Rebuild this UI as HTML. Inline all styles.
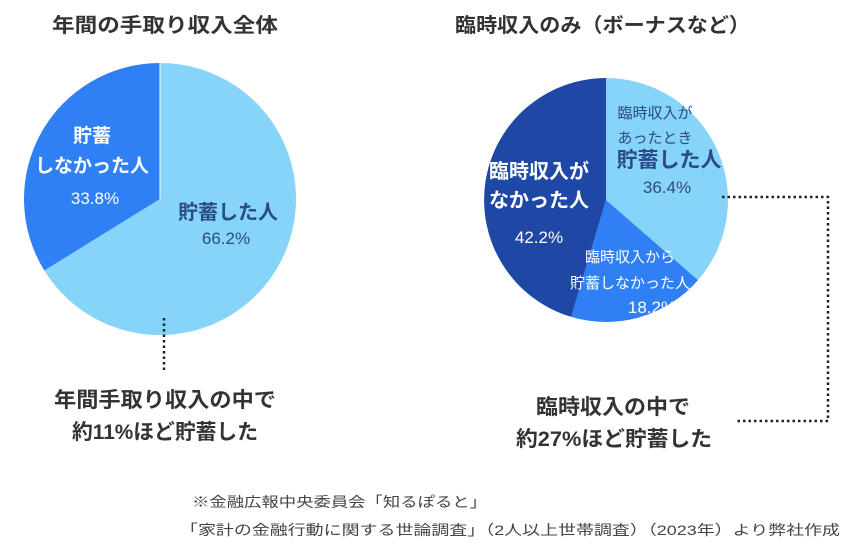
<!DOCTYPE html>
<html><head><meta charset="utf-8"><style>
html,body{margin:0;padding:0;background:#fff;}
svg{display:block;font-family:"Liberation Sans","Noto Sans CJK JP",sans-serif;}
</style></head><body>
<svg width="850" height="547" viewBox="0 0 850 547">
<text x="52" y="32" font-size="20" font-weight="bold" fill="#333" textLength="226" lengthAdjust="spacingAndGlyphs">年間の手取り収入全体</text>
<text x="455" y="32" font-size="20" font-weight="bold" fill="#333" textLength="295" lengthAdjust="spacingAndGlyphs">臨時収入のみ（ボーナスなど）</text>

<path d="M160,199 L160,63 A136,136 0 1 1 44.3,270.5 Z" fill="#86d4f7"/>
<path d="M160,199 L44.3,270.5 A136,136 0 0 1 160,63 Z" fill="#2f80f4"/>
<path d="M160,199 L160,63" stroke="#fff" stroke-width="1"/>

<path d="M606,200 L606,78 A122,122 0 0 1 698,280.1 Z" fill="#86d4f7"/>
<path d="M606,200 L698,280.1 A122,122 0 0 1 571.2,316.9 Z" fill="#2f80f4"/>
<path d="M606,200 L571.2,316.9 A122,122 0 0 1 606,78 Z" fill="#1f48a6"/>

<g fill="#fff" text-anchor="middle">
<text x="92" y="142" font-size="19" font-weight="bold">貯蓄</text>
<text x="92" y="172" font-size="19" font-weight="bold">しなかった人</text>
<text x="95" y="204" font-size="17">33.8%</text>
<text x="539" y="178" font-size="20" font-weight="bold">臨時収入が</text>
<text x="539" y="207" font-size="20" font-weight="bold">なかった人</text>
<text x="539" y="243" font-size="17">42.2%</text>
<text x="630" y="262" font-size="15">臨時収入から</text>
<text x="630" y="288" font-size="15">貯蓄しなかった人</text>
<text x="652" y="313" font-size="17">18.2%</text>
</g>
<g fill="#2b4a88" text-anchor="middle">
<text x="228" y="219" font-size="20" font-weight="bold">貯蓄した人</text>
<text x="226" y="244" font-size="17">66.2%</text>
<text x="655" y="118" font-size="15">臨時収入が</text>
<text x="655" y="143" font-size="15">あったとき</text>
<text x="669" y="167" font-size="21" font-weight="bold">貯蓄した人</text>
<text x="667" y="193" font-size="17">36.4%</text>
</g>

<g stroke="#222" stroke-width="2.5" stroke-dasharray="2.5,3" fill="none">
<path d="M164,318 L164,372"/>
<path d="M722,197 L828,197 L828,421 L735,421"/>
</g>

<g fill="#333" font-size="21" font-weight="bold">
<text x="54" y="407" textLength="222" lengthAdjust="spacingAndGlyphs">年間手取り収入の中で</text>
<text x="72" y="439" textLength="186" lengthAdjust="spacingAndGlyphs">約11%ほど貯蓄した</text>
<text x="536" y="414" textLength="154" lengthAdjust="spacingAndGlyphs">臨時収入の中で</text>
<text x="516" y="446" textLength="196" lengthAdjust="spacingAndGlyphs">約27%ほど貯蓄した</text>
</g>
<g fill="#444" font-size="14">
<text x="192" y="507" textLength="295" lengthAdjust="spacingAndGlyphs">※金融広報中央委員会「知るぽると」</text>
<text x="180" y="535" textLength="660" lengthAdjust="spacingAndGlyphs">「家計の金融行動に関する世論調査」（2人以上世帯調査）（2023年）より弊社作成</text>
</g>
</svg>
</body></html>
